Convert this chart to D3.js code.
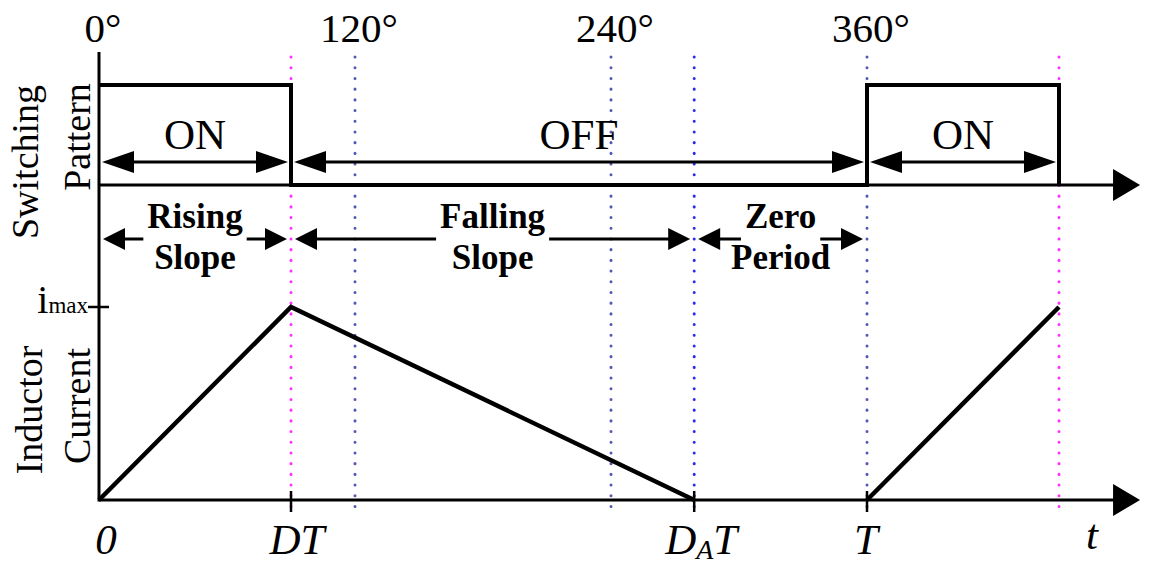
<!DOCTYPE html>
<html><head><meta charset="utf-8">
<script src="https://cdn.jsdelivr.net/npm/d3@7"></script>
<style>body{margin:0;background:#fff}svg{display:block}</style>
</head><body>
<svg id="c" width="1151" height="567"></svg>
<script>
// ---- data ----
const phaseDeg = [0, 120, 240, 360];
const phaseLabels = ["0°", "120°", "240°", "360°"];
const eventDeg = [90, 279, 360];            // DT, D_A T, T
const switchPts = [[0,1],[90,1],[90,0],[360,0],[360,1],[450,1],[450,0]];
const currentRise1 = [[0,0],[90,1],[279,0]];
const currentRise2 = [[360,0],[450,1]];
const switchStates = [{a:0,b:90,label:"ON"},{a:90,b:360,label:"OFF"},{a:360,b:450,label:"ON"}];
const currentPhases = [{a:0,b:90,l1:"Rising",l2:"Slope"},{a:90,b:279,l1:"Falling",l2:"Slope"},{a:279,b:360,l1:"Zero",l2:"Period"}];
const magentaDeg = [90, 450];
const blueDeg = [120, 240, 279, 360];
const axisEndDeg = 488;

// ---- layout ----
const svg = d3.select("#c");
const serif = "'Liberation Serif','Times New Roman',serif";
const x = d3.scaleLinear().domain([0,360]).range([99,867]);
const ySw = d3.scaleLinear().domain([0,1]).range([185,85]);
const yCur = d3.scaleLinear().domain([0,1]).range([500,307]);
const xEnd = x(axisEndDeg);

function head(g, tx, y, dir, L, W){
  g.append("path").attr("d", `M${tx},${y}L${tx-dir*L},${y-W}L${tx-dir*L},${y+W}Z`).attr("fill","#000");
}

// dotted guide lines
const guides = svg.append("g");
guides.selectAll("line.b").data(blueDeg).join("line")
  .attr("x1", d=>x(d)).attr("x2", d=>x(d)).attr("y1",57).attr("y2",513)
  .attr("stroke", d=> d===279 ? "#2a2af5" : "#5656b8").attr("stroke-width",3)
  .attr("stroke-linecap","round").attr("stroke-dasharray","0.1 10.6");
guides.selectAll("line.m").data(magentaDeg).join("line")
  .attr("x1", d=>x(d)).attr("x2", d=>x(d)).attr("y1",57).attr("y2",513)
  .attr("stroke","#ff30ff").attr("stroke-width",3)
  .attr("stroke-linecap","round").attr("stroke-dasharray","0.1 10.6");

// axes
const ax = svg.append("g");
ax.append("line").attr("x1",x(0)).attr("x2",x(0)).attr("y1",52).attr("y2",yCur(0)+1.5).attr("stroke","#000").attr("stroke-width",3);
ax.append("line").attr("x1",x(0)).attr("x2",xEnd-20).attr("y1",ySw(0)).attr("y2",ySw(0)).attr("stroke","#000").attr("stroke-width",3);
ax.append("line").attr("x1",x(0)).attr("x2",xEnd-20).attr("y1",yCur(0)).attr("y2",yCur(0)).attr("stroke","#000").attr("stroke-width",3);
head(ax, xEnd, ySw(0), 1, 27, 16);
head(ax, xEnd, yCur(0), 1, 27, 16);
// ticks
ax.selectAll("line.t").data(eventDeg).join("line")
  .attr("x1",d=>x(d)).attr("x2",d=>x(d)).attr("y1",491).attr("y2",512)
  .attr("stroke","#000").attr("stroke-width",2.5);
ax.append("line").attr("x1",88).attr("x2",109).attr("y1",yCur(1)).attr("y2",yCur(1)).attr("stroke","#000").attr("stroke-width",2.5);

// switching pattern
const line = d3.line();
svg.append("path").attr("d", line(switchPts.map(p=>[x(p[0]), ySw(p[1])])))
  .attr("fill","none").attr("stroke","#000").attr("stroke-width",4).attr("stroke-linejoin","miter");

// inductor current
[currentRise1, currentRise2].forEach(seg=>{
  svg.append("path").attr("d", line(seg.map(p=>[x(p[0]), yCur(p[1])])))
    .attr("fill","none").attr("stroke","#000").attr("stroke-width",4.5).attr("stroke-linejoin","miter");
});

// ON / OFF arrows
const st = svg.append("g");
switchStates.forEach(s=>{
  const x1 = x(s.a)+3, x2 = x(s.b)-3, y = 162;
  st.append("line").attr("x1",x1+10).attr("x2",x2-10).attr("y1",y).attr("y2",y).attr("stroke","#000").attr("stroke-width",3);
  head(st, x1, y, -1, 32, 11);
  head(st, x2, y, 1, 32, 11);
  st.append("text").attr("x",(x(s.a)+x(s.b))/2).attr("y",149).attr("text-anchor","middle")
    .attr("font-family",serif).attr("font-size",43).text(s.label);
});

// current phase arrows
const ph = svg.append("g");
currentPhases.forEach(p=>{
  const cx = (x(p.a)+x(p.b))/2, y = 239;
  const t1 = ph.append("text").attr("x",cx).attr("y",228).attr("text-anchor","middle")
    .attr("font-family",serif).attr("font-weight","bold").attr("font-size",35).text(p.l1);
  ph.append("text").attr("x",cx).attr("y",269).attr("text-anchor","middle")
    .attr("font-family",serif).attr("font-weight","bold").attr("font-size",35).text(p.l2);
  const w = t1.node().getComputedTextLength();
  const x1 = x(p.a)+4, x2 = x(p.b)-4;
  const g1 = cx - w/2 - 4, g2 = cx + w/2 + 4;
  ph.append("line").attr("x1",x1+10).attr("x2",g1).attr("y1",y).attr("y2",y).attr("stroke","#000").attr("stroke-width",3);
  ph.append("line").attr("x1",g2).attr("x2",x2-10).attr("y1",y).attr("y2",y).attr("stroke","#000").attr("stroke-width",3);
  head(ph, x1, y, -1, 22, 11);
  head(ph, x2, y, 1, 22, 11);
});

// phase degree labels
svg.selectAll("text.deg").data(phaseDeg).join("text")
  .attr("x", d=>x(d)+4).attr("y",42).attr("text-anchor","middle")
  .attr("font-family",serif).attr("font-size",41).text((d,i)=>phaseLabels[i]);

// bottom time labels
const tl = svg.append("g").attr("font-family",serif).attr("font-style","italic").attr("font-size",43).attr("text-anchor","middle");
tl.append("text").attr("x",x(0)+7).attr("y",554).text("0");
tl.append("text").attr("x",x(eventDeg[0])+6).attr("y",554).text("DT");
const da = tl.append("text").attr("x",x(eventDeg[1])+7).attr("y",554);
da.append("tspan").text("D");
da.append("tspan").attr("dy",5).attr("font-size",28).text("A");
da.append("tspan").attr("dy",-5).text("T");
tl.append("text").attr("x",x(eventDeg[2])-1).attr("y",554).text("T");
tl.append("text").attr("x",1092).attr("y",549).text("t");

// imax label
const im = svg.append("text").attr("x",88).attr("y",313).attr("text-anchor","end").attr("font-family",serif);
im.append("tspan").attr("font-size",40).text("i");
im.append("tspan").attr("font-size",23).text("max");

// y-axis titles
const yt = svg.append("g").attr("font-family",serif).attr("font-size",38).attr("text-anchor","middle");
[["Switching",38,162],["Pattern",90,137],["Inductor",42,410],["Current",90,406]].forEach(([t,bx,cy])=>{
  yt.append("text").attr("transform",`translate(${bx},${cy}) rotate(-90)`).text(t);
});
</script>
</body></html>
